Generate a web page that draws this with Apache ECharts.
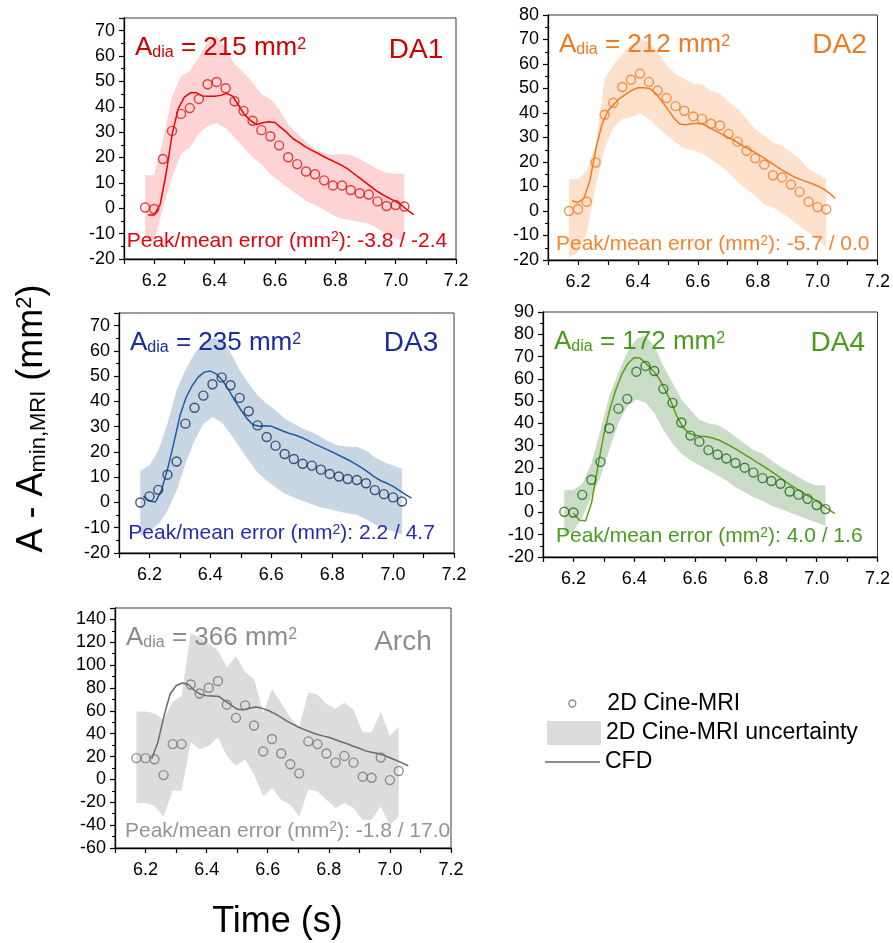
<!DOCTYPE html>
<html>
<head>
<meta charset="utf-8">
<script src="https://cdn.jsdelivr.net/npm/echarts@6/dist/echarts.min.js"></script>
<style>
  html, body { margin: 0; padding: 0; background: #ffffff; }
  #chart { width: 893px; height: 943px; }
</style>
</head>
<body>
<div id="chart"></div>
<script>
// Time stamps (s) of the 2D Cine-MRI frames and of the CFD output
const mriTime = [6.170, 6.200, 6.229, 6.259, 6.289, 6.318, 6.348, 6.377, 6.407, 6.437,
                 6.466, 6.496, 6.526, 6.555, 6.585, 6.614, 6.644, 6.674, 6.703, 6.733,
                 6.763, 6.792, 6.822, 6.851, 6.881, 6.911, 6.940, 6.970, 7.000, 7.029];
const cfdTime = [6.18, 6.20, 6.22, 6.24, 6.26, 6.28, 6.30, 6.32, 6.34, 6.36, 6.38, 6.40,
                 6.42, 6.44, 6.46, 6.48, 6.50, 6.52, 6.54, 6.56, 6.58, 6.60, 6.62, 6.64,
                 6.66, 6.68, 6.70, 6.72, 6.74, 6.76, 6.78, 6.80, 6.82, 6.84, 6.86, 6.88,
                 6.90, 6.92, 6.94, 6.96, 6.98, 7.00, 7.02, 7.04, 7.06];

// DA1
const da1Mri   = [0.3, -0.3, 19.4, 30.5, 37.2, 39.5, 43.1, 48.9, 49.8, 47.3, 42.2, 38.4, 34.5, 30.8, 28.4,
                  24.8, 20.1, 17.4, 14.5, 13.4, 11.0, 9.0, 9.0, 7.2, 5.9, 5.4, 2.7, 0.9, 1.3, 0.7];
const da1Upper = [13, 13, 26.8, 44, 52, 54, 59.6, 65.6, 68, 63, 57, 53.5, 49.5, 45, 43,
                  39, 33, 29.5, 26, 23.4, 21.7, 21, 21.4, 21, 19.4, 17.4, 15.4, 14, 13.6, 13.6];
const da1Lower = [-12.7, -12.7, 0, 12, 21.4, 24, 29.5, 32.4, 33.5, 31.5, 28, 24, 20, 17.4, 13.4,
                  10.7, 8, 5.4, 2.9, 1.3, -0.7, -2.7, -4, -4.7, -5.4, -6, -8, -10, -12, -12.7];
const da1Cfd   = [-2.7, -2.7, 1.5, 14, 29.5, 39.4, 43.8, 45.5, 45.5, 44.3, 44.2, 44.2, 44.5, 45.3, 44.2,
                  40.5, 36.8, 34.5, 33, 33.7, 34.1, 33.8, 31.8, 29.8, 27.4, 26, 24.3, 23, 21.8, 20.5,
                  19.3, 18.2, 17, 15.6, 13.8, 12, 10.2, 8.3, 6.6, 5.2, 3.9, 2.7, 1.2, -0.8, -2.5];

// DA2
const da2Mri   = [0, 0.7, 3.8, 19.8, 39.3, 44.2, 50.6, 53.6, 56.1, 52.7, 49.2, 46.1, 42.8, 40.9, 38.6,
                  37.6, 35.6, 34.9, 31.5, 28.3, 24.6, 21.5, 18.9, 14.6, 13.7, 10.8, 7.8, 3.8, 1.6, 0.7];
const da2Upper = [13, 13, 16.4, 26.7, 54, 59.5, 64.3, 67.7, 70.4, 69, 65, 59.5, 56, 54, 52,
                  51.6, 49.2, 47.9, 44.5, 41.7, 37.6, 33.5, 30.8, 28, 26.7, 24, 21.2, 17.1, 15, 13];
const da2Lower = [-19, -17, -9, 10, 25.3, 34.2, 37.6, 38.3, 39.7, 37.6, 34.2, 30.8, 28, 25.6, 24.6,
                  23.7, 21.2, 18.5, 15.7, 11.9, 8.9, 6.2, 2.7, 1.4, -0.7, -3.4, -6.2, -8.9, -11.6, -15];
const da2Cfd   = [4.2, 3.4, 5.2, 12.5, 25.5, 35.3, 40.8, 43.6, 46, 47.7, 49.3, 50.3, 50.3, 50, 48,
                  44.8, 41.5, 38, 35.5, 35.2, 35.6, 35.8, 35.3, 33.9, 32.7, 31.4, 30.1, 28.9, 27.4, 26,
                  24.6, 23.2, 21.8, 20, 18.4, 16.8, 15.4, 14, 13, 12.1, 11.2, 10.2, 9, 7.2, 5.1];

// DA3
const da3Mri   = [0, 2.4, 5.0, 11.0, 16.2, 31.2, 37.5, 42.3, 46.8, 49.5, 46.4, 41.4, 36.1, 30.5, 25.9,
                  22.5, 19.2, 17.2, 15.3, 14.6, 13.0, 11.3, 10.3, 9.3, 8.9, 7.6, 4.9, 3.3, 2.0, 0.4];
const da3Upper = [12.6, 14.6, 20.6, 31.2, 44.4, 52.4, 59, 63.5, 65, 64.8, 59.5, 52.4, 47.1, 42.4, 39.1,
                  36.5, 33.2, 31.2, 29.2, 27.9, 25.9, 23.9, 22.5, 22.1, 22.1, 20.6, 17.9, 15.9, 14.6, 13.3];
const da3Lower = [-13.3, -11.3, -8.6, -3.3, 4.6, 15.3, 24.5, 31.2, 33.8, 31.8, 27.2, 21.9, 16.6, 11.9, 8.6,
                  6, 3.6, 2, 0.7, -0.7, -2, -2.7, -3.6, -4.4, -4.9, -6.6, -8.6, -10.2, -11.5, -12.6];
const da3Cfd   = [2.5, 0.6, 0.2, 5, 13.5, 23.5, 34.3, 41.5, 46.2, 49.6, 51.6, 52, 50.8, 48.3, 44.6,
                  40.4, 36.7, 33.2, 30.8, 30.2, 30.4, 30.2, 29.2, 28.2, 27.3, 26.6, 25.7, 24.6, 23.3, 22.2,
                  21.1, 20, 18.8, 17.6, 16.4, 15, 13.5, 11.8, 10, 8.6, 7.6, 6.4, 4.8, 3.2, 1.7];

// DA4
const da4Mri   = [0.3, 0, 7.9, 14.7, 22.7, 37.8, 46.6, 51, 63.2, 65.8, 63.5, 55.5, 49.2, 40.4, 34.5,
                  31.8, 28, 26, 24.2, 22.2, 20.1, 17.9, 15.4, 14.1, 12.9, 9.4, 8, 6.1, 3.3, 1.5];
const da4Upper = [10.1, 10.1, 12.9, 21.9, 37, 52.2, 62.8, 71.9, 77.9, 79.4, 74.9, 65.8, 58.2, 50.7, 46.1,
                  41.6, 40.1, 39.3, 37, 34, 31, 28, 26.5, 23.4, 20.4, 18.2, 15.9, 13.6, 12.1, 12.1];
const da4Lower = [-10.6, -8.3, -2.3, 6.8, 15.9, 28, 40.1, 47.7, 50.7, 49.2, 44.6, 37, 31, 26.5, 23.4,
                  21.2, 18.9, 16.6, 14.4, 11.3, 9.1, 6.8, 5.3, 3, 1.5, 0, -1.5, -3, -4.5, -6];
const da4Cfd   = [null, -0.3, -3.5, -3.7, 4.5, 20.2, 34.9, 46.5, 55.3, 62.2, 67, 69.6, 69.2, 66.7, 64,
                  60.5, 55.5, 50, 43.3, 38.3, 35.6, 34.7, 34.2, 34, 33.3, 32.4, 31, 29.6, 28, 26.3,
                  24.6, 22.8, 21.1, 19.4, 17.6, 15.6, 13.6, 11.8, 10.1, 8.5, 6.8, 5.2, 3.2, 1.3, -0.5];

// Arch
const archMri   = [18.6, 18.6, 17.7, 3.8, 30.9, 30.9, 83.1, 75.2, 80.2, 86.1, 65.4, 53.9, 64.8, 47.2, 24.5,
                   35.4, 22.7, 13.3, 5.3, 33.3, 30.9, 22.7, 14.7, 20.6, 14.7, 2.4, 1.5, 19.2, -0.6, 7.4];
const archUpper = [59.5, 59.5, 58, 52, 68, 73, 128, 124, 119, 113, 98, 108, 94, 88, 58,
                   79, 67, 54, 46, 76, 74, 66, 62, 67, 61, 41, 41, 59, 38, 46];
const archLower = [-20.6, -20.6, -23, -32.4, -10, -10, 33, 26.5, 29.5, 36.8, 20.6, 11.8, 17.7, 4.4, -14.7,
                   -7.4, -17.7, -22.1, -32.4, -8.8, -10.3, -17.7, -25, -20.6, -25, -35.4, -35.4, -23.6, -39.8, -32.4];
const archCfd   = [null, null, 18, 32, 55, 74.5, 82, 84.4, 83, 78, 74.5, 73.2, 73, 72.6, 68.8,
                   65, 61.5, 61, 62.2, 63.3, 62.4, 60.5, 58, 55, 51.5, 48.6, 45.9, 43.6, 41.5, 39.6,
                   38.1, 36.9, 35, 33, 31.2, 29, 27.3, 25, 23.7, 22.6, 21.2, 19, 16.8, 14.5, 12];

// Panel labels
const panelNames    = ['DA1', 'DA2', 'DA3', 'DA4', 'Arch'];
const diastolicArea = [215, 212, 235, 172, 366];
const errorLabels   = ['-3.8 / -2.4', '-5.7 / 0.0', '2.2 / 4.7', '4.0 / 1.6', '-1.8 / 17.0'];
const yRanges       = [[-20, 75, 10], [-20, 80, 10], [-20, 75, 10], [-20, 90, 10], [-60, 150, 20]];
const legendNames   = ['2D Cine-MRI', '2D Cine-MRI uncertainty', 'CFD'];

const seriesData = [
  { mri: da1Mri,  upper: da1Upper,  lower: da1Lower,  cfd: da1Cfd },
  { mri: da2Mri,  upper: da2Upper,  lower: da2Lower,  cfd: da2Cfd },
  { mri: da3Mri,  upper: da3Upper,  lower: da3Lower,  cfd: da3Cfd },
  { mri: da4Mri,  upper: da4Upper,  lower: da4Lower,  cfd: da4Cfd },
  { mri: archMri, upper: archUpper, lower: archLower, cfd: archCfd }
];

// ---- layout and styling ----
const FONT = '"Liberation Sans", Arial, Helvetica, sans-serif';
const boxes = [
  { left: 124, top: 18,  width: 332, height: 241 },
  { left: 548, top: 15,  width: 332, height: 245 },
  { left: 119, top: 313, width: 335, height: 240 },
  { left: 543, top: 312, width: 337, height: 245 },
  { left: 115, top: 608, width: 336, height: 240 }
];
// text placement inside each box: [tag right inset, tag baseline, error left inset, error baseline inset]
const textPlace = [
  [12.7, 42, 2.7, 10.7],
  [13.3, 40, 8, 8.3],
  [15.7, 40.3, 9.3, 12.3],
  [15, 41, 13, 13],
  [19.3, 43.7, 10, 9.7]
];
const palette = [
  { text: '#cc0000', err: '#e5000d', line: '#f00000', mark: '#dc1414', band: '#fdd3d3' },
  { text: '#f07a21', err: '#f28630', line: '#f47a20', mark: '#f47a20', band: '#fde1cd' },
  { text: '#1a2ba0', err: '#2a2ab0', line: '#1f5aa8', mark: '#1b2d5e', band: '#c8d5e3' },
  { text: '#4a9a1c', err: '#4a9a1c', line: '#5c9e10', mark: '#1e6a1e', band: '#cadcc7' },
  { text: '#8c8c8c', err: '#949494', line: '#6a6a6a', mark: '#777777', band: '#dcdcdc' }
];
const TEXT_Z = 50;

const grid = [], xAxis = [], yAxis = [], series = [], graphic = [];

panelNames.forEach((name, i) => {
  const box = boxes[i];
  const col = palette[i];
  const d = seriesData[i];
  const [yMin, yMax, yStep] = yRanges[i];
  const isLast = i === panelNames.length - 1;

  grid.push({
    left: box.left, top: box.top, width: box.width, height: box.height,
    show: true, borderColor: '#3a3a3a', borderWidth: 1, backgroundColor: 'transparent'
  });

  xAxis.push({
    gridIndex: i, type: 'value', min: 6.1, max: 7.2, interval: 0.1,
    axisLine: { show: true, onZero: false, lineStyle: { color: '#000', width: 1.3 } },
    axisTick: { show: true, inside: false, length: 5, lineStyle: { color: '#000', width: 1.2 } },
    axisLabel: {
      margin: 13, fontSize: 18, color: '#000', fontFamily: FONT,
      formatter: v => (Math.round(v * 10) % 2 === 0 ? v.toFixed(1) : '')
    },
    splitLine: { show: false }
  });

  yAxis.push({
    gridIndex: i, type: 'value', min: yMin, max: yMax, interval: yStep,
    axisLine: { show: true, onZero: false, lineStyle: { color: '#000', width: 1.3 } },
    axisTick: { show: true, inside: false, length: 5, lineStyle: { color: '#000', width: 1.2 } },
    minorTick: { show: true, splitNumber: 2, length: 3, lineStyle: { color: '#000', width: 1.1 } },
    axisLabel: {
      margin: 9, fontSize: 18, color: '#000', fontFamily: FONT,
      showMaxLabel: (yMax - yMin) % yStep === 0
    },
    splitLine: { show: false }
  });

  // uncertainty band: one polygon through the upper edge and back along the lower edge
  series.push({
    type: 'custom', name: isLast ? legendNames[1] : name + ' uncertainty',
    xAxisIndex: i, yAxisIndex: i,
    data: mriTime.map((t, j) => [t, d.lower[j], d.upper[j]]),
    encode: { x: 0, y: [1, 2] },
    itemStyle: { color: col.band },
    silent: true, z: 1,
    renderItem: (params, api) => {
      if (params.dataIndex !== 0) return null;
      const topEdge = mriTime.map((t, j) => api.coord([t, d.upper[j]]));
      const bottomEdge = mriTime.map((t, j) => api.coord([t, d.lower[j]])).reverse();
      return {
        type: 'polygon',
        shape: { points: topEdge.concat(bottomEdge) },
        style: { fill: col.band, stroke: null }
      };
    }
  });
  // CFD curve
  series.push({
    type: 'line', name: isLast ? legendNames[2] : name + ' CFD', xAxisIndex: i, yAxisIndex: i,
    data: cfdTime.map((t, j) => [t, d.cfd[j]]).filter(p => p[1] !== null),
    symbol: 'none', silent: true,
    itemStyle: { color: col.line },
    lineStyle: { color: col.line, width: 1.5 }, z: 3
  });
  // MRI measurements
  series.push({
    type: 'scatter', name: isLast ? legendNames[0] : name + ' MRI', xAxisIndex: i, yAxisIndex: i,
    data: mriTime.map((t, j) => [t, d.mri[j]]),
    symbol: 'circle', symbolSize: 9, silent: true,
    itemStyle: { color: 'rgba(0,0,0,0)', borderColor: col.mark, borderWidth: 1.4 }, z: 4
  });

  const [tagRight, tagBase, errLeft, errBase] = textPlace[i];
  // diastolic area annotation
  graphic.push({
    type: 'text', x: box.left + 11, y: box.top + 39 + 3.9, silent: true, z: TEXT_Z,
    style: {
      text: '{m|A}{s|dia}{m| = ' + diastolicArea[i] + ' mm}{p|2}',
      fill: col.text, textAlign: 'left', verticalAlign: 'bottom', textVerticalAlign: 'bottom',
      rich: {
        m: { font: '26px ' + FONT, lineHeight: 26, verticalAlign: 'bottom' },
        s: { font: '16px ' + FONT, lineHeight: 8, verticalAlign: 'bottom' },
        p: { font: '16px ' + FONT, lineHeight: 16, padding: [2, 0, 8, 0], verticalAlign: 'top' }
      }
    }
  });
  // panel tag
  graphic.push({
    type: 'text', x: box.left + box.width - tagRight, y: box.top + tagBase + 4.2, silent: true, z: TEXT_Z,
    style: {
      text: '{m|' + name + '}', fill: col.text, textAlign: 'right',
      verticalAlign: 'bottom', textVerticalAlign: 'bottom',
      rich: { m: { font: '28px ' + FONT, lineHeight: 28, verticalAlign: 'bottom' } }
    }
  });
  // error summary
  graphic.push({
    type: 'text', x: box.left + errLeft, y: box.top + box.height - errBase + 3.15, silent: true, z: TEXT_Z,
    style: {
      text: '{m|Peak/mean error (mm}{p|2}{m|): ' + errorLabels[i] + '}',
      fill: col.err, textAlign: 'left', verticalAlign: 'bottom', textVerticalAlign: 'bottom',
      rich: {
        m: { font: '21px ' + FONT, lineHeight: 21, verticalAlign: 'bottom' },
        p: { font: '14px ' + FONT, lineHeight: 14, padding: [0, 0, 11, 0], verticalAlign: 'top' }
      }
    }
  });
});

// shared axis titles
graphic.push({
  type: 'text', x: 32, y: 418.5, rotation: Math.PI / 2, silent: true, z: TEXT_Z,
  style: {
    text: '{m|A - A}{s|min,MRI}{m| (mm}{p|2}{m|)}',
    fill: '#000', textAlign: 'center', verticalAlign: 'middle', textVerticalAlign: 'middle',
    rich: {
      m: { font: '36px ' + FONT, lineHeight: 36, verticalAlign: 'bottom' },
      s: { font: '22px ' + FONT, lineHeight: 12, verticalAlign: 'bottom' },
      p: { font: '22px ' + FONT, lineHeight: 22, padding: [0, 0, 26, 0], verticalAlign: 'top' }
    }
  }
});
graphic.push({
  type: 'text', x: 277.5, y: 940.4, silent: true, z: TEXT_Z,
  style: {
    text: '{m|Time (s)}', fill: '#000', textAlign: 'center',
    verticalAlign: 'bottom', textVerticalAlign: 'bottom',
    rich: { m: { font: '36px ' + FONT, lineHeight: 36, verticalAlign: 'bottom' } }
  }
});

const legendText = { fontSize: 23, color: '#000', fontFamily: FONT };
const legend = [
  {
    data: [{ name: legendNames[0], icon: 'circle',
             itemStyle: { color: 'rgba(0,0,0,0)', borderColor: '#6a6a6a', borderWidth: 1.3 } }],
    left: 568.2, top: 692, itemWidth: 7, itemHeight: 7, padding: 0,
    selectedMode: false, textStyle: Object.assign({ padding: [0, 0, 0, 26.5] }, legendText)
  },
  {
    data: [{ name: legendNames[1], icon: 'rect', itemStyle: { color: '#dcdcdc', borderWidth: 0 } }],
    left: 547, top: 721, itemWidth: 54, itemHeight: 24, padding: 0,
    selectedMode: false, textStyle: legendText
  },
  {
    data: [{ name: legendNames[2], icon: 'rect', itemStyle: { color: '#6a6a6a', borderWidth: 0 } }],
    left: 545, top: 750.5, itemWidth: 55, itemHeight: 1.5, padding: 0,
    selectedMode: false, textStyle: legendText
  }
];

const chart = echarts.init(document.getElementById('chart'), null, { renderer: 'canvas' });
chart.setOption({
  animation: false,
  backgroundColor: '#ffffff',
  grid, xAxis, yAxis, series, legend,
  graphic: { elements: graphic, z: TEXT_Z }
});
</script>
</body>
</html>
